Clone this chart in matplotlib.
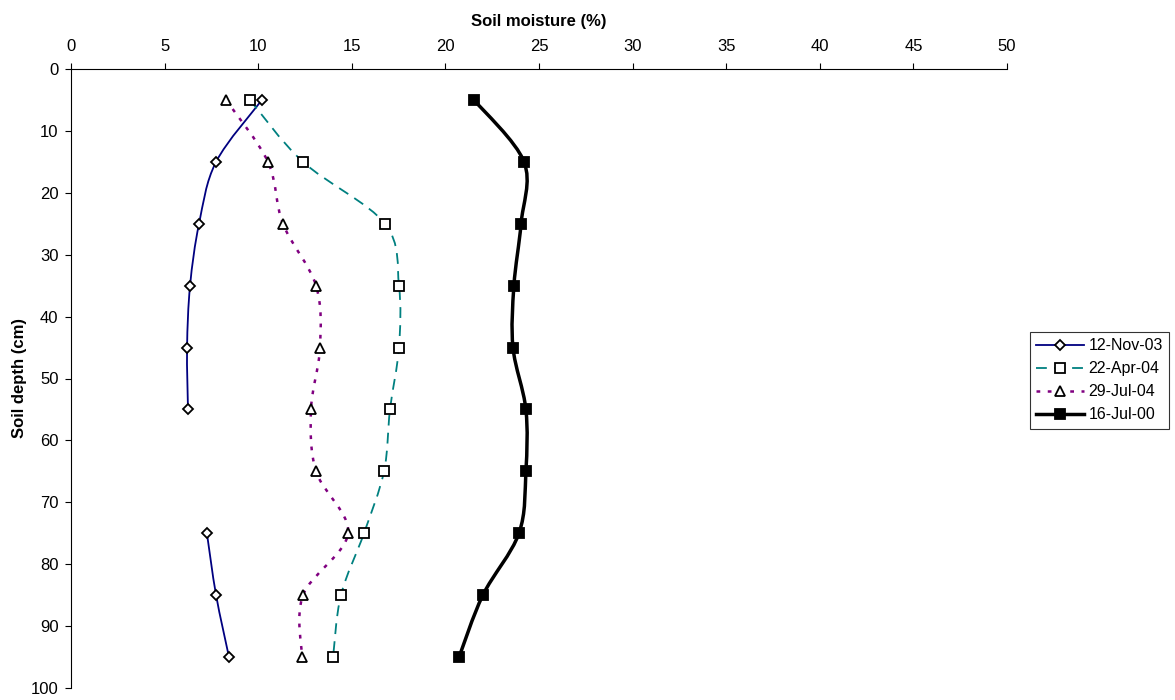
import matplotlib
matplotlib.use("Agg")
import matplotlib.pyplot as plt
from matplotlib.path import Path
from matplotlib.patches import PathPatch
from matplotlib.lines import Line2D
import numpy as np

plt.rcParams['font.family'] = ['Liberation Sans', 'DejaVu Sans']

depth = [5, 15, 25, 35, 45, 55, 65, 75, 85, 95]
nov03 = [10.2, 7.75, 6.84, 6.36, 6.2, 6.25, None, 7.26, 7.75, 8.44]
apr04 = [9.56, 12.39, 16.77, 17.52, 17.52, 17.04, 16.72, 15.65, 14.42, 14.0]
jul04 = [8.28, 10.52, 11.32, 13.09, 13.3, 12.82, 13.09, 14.8, 12.39, 12.34]
jul00 = [21.53, 24.2, 24.04, 23.66, 23.61, 24.3, 24.3, 23.93, 22.0, 20.73]
labels = ['12-Nov-03', '22-Apr-04', '29-Jul-04', '16-Jul-00']

fig = plt.figure(figsize=(11.75, 7.0), dpi=100)
ax = fig.add_axes([71/1175, 1-688/700, (1007-71)/1175, (688-69)/700])


def smooth_path(xs, ys):
    pts = np.column_stack([xs, ys]).astype(float)
    n = len(pts)
    verts = [pts[0]]
    codes = [Path.MOVETO]
    for i in range(n - 1):
        p0 = pts[i - 1] if i > 0 else pts[i]
        p1 = pts[i]
        p2 = pts[i + 1]
        p3 = pts[i + 2] if i + 2 < n else pts[i + 1]
        c1 = p1 + (p2 - p0) / 6.0
        c2 = p2 - (p3 - p1) / 6.0
        verts += [c1, c2, p2]
        codes += [Path.CURVE4] * 3
    return Path(verts, codes)


def draw_series(vals, color, ls, lw, marker, msize, mfc, label):
    segs = []
    cur = []
    for v, d in zip(vals, depth):
        if v is None:
            if cur:
                segs.append(cur)
            cur = []
        else:
            cur.append((v, d))
    if cur:
        segs.append(cur)
    for s in segs:
        xs = [p[0] for p in s]
        ys = [p[1] for p in s]
        if len(s) > 1:
            patch = PathPatch(smooth_path(xs, ys), facecolor='none', edgecolor=color,
                              linestyle=ls, linewidth=lw, zorder=2)
            ax.add_patch(patch)
    xv = [v for v in vals if v is not None]
    dv = [d for v, d in zip(vals, depth) if v is not None]
    ax.plot(xv, dv, linestyle='none', marker=marker, markersize=msize,
            markerfacecolor=mfc, markeredgecolor='black', markeredgewidth=1.3, zorder=3)
    return Line2D([], [], color=color, linestyle=ls, linewidth=lw, marker=marker,
                  markersize=msize, markerfacecolor=mfc, markeredgecolor='black',
                  markeredgewidth=1.3, label=label)


h1 = draw_series(nov03, '#000080', '-', 1.3, 'D', 5.5, 'white', labels[0])
h2 = draw_series(apr04, '#008080', (0, (6, 4)), 1.3, 's', 7, 'white', labels[1])
h3 = draw_series(jul04, '#800080', (0, (1.5, 3)), 1.8, '^', 7, 'white', labels[2])
h4 = draw_series(jul00, 'black', '-', 2.5, 's', 7, 'black', labels[3])

ax.set_xlim(0, 50)
ax.set_ylim(100, 0)
ax.set_xticks(range(0, 51, 5))
ax.set_yticks(range(0, 101, 10))
ax.xaxis.tick_top()
ax.xaxis.set_label_position('top')
ax.spines['right'].set_visible(False)
ax.spines['bottom'].set_visible(False)
ax.tick_params(axis='x', direction='out', length=4, labelsize=12, pad=7)
ax.tick_params(axis='y', direction='out', length=4, labelsize=12, pad=5)
ax.set_xlabel('Soil moisture (%)', fontsize=12, fontweight='bold', labelpad=9)
ax.set_ylabel('Soil depth (cm)', fontsize=12, fontweight='bold', labelpad=3)

leg = fig.legend(handles=[h1, h2, h3, h4], loc='upper left',
                 bbox_to_anchor=(1030/1175, 1-332/700), fontsize=11.5,
                 frameon=True, fancybox=False, edgecolor='black',
                 handlelength=3.0, handletextpad=0.25, borderpad=0.4,
                 labelspacing=0.5, borderaxespad=0)
leg.get_frame().set_linewidth(0.8)

fig.savefig('out.png', dpi=100)
